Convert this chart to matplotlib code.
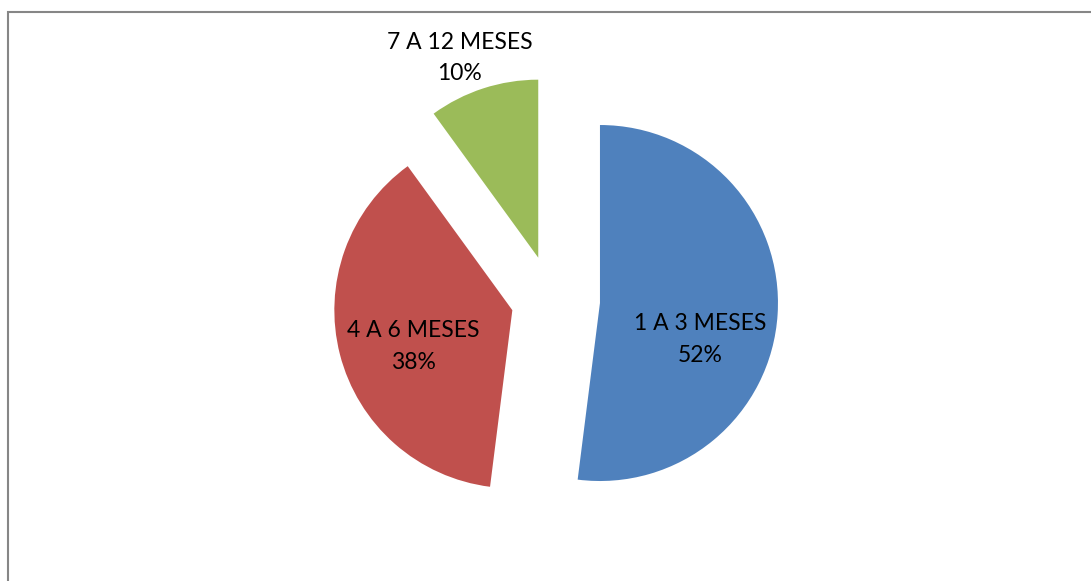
import matplotlib.pyplot as plt
from matplotlib.patches import Rectangle

categories = ["1 A 3 MESES", "4 A 6 MESES", "7 A 12 MESES"]
percentages = [52, 38, 10]
colors = ["#4F81BD", "#C0504D", "#9BBB59"]
explode = [0.27, 0.23, 0.25]

# label anchor points, in pie-radius units from the pie centre
label_pos = [(0.83, -0.222), (-0.78, -0.261), (-0.517, 1.36)]

W, H, DPI = 1091, 581, 100
R_PX = 178          # pie radius in pixels
CX, CY = 552, 300   # pie centre in pixels (from top-left)

fig = plt.figure(figsize=(W / DPI, H / DPI), dpi=DPI)
ax = fig.add_axes([0, 0, 1, 1])

ax.pie(percentages, colors=colors, explode=explode, startangle=90,
       counterclock=False, radius=1,
       wedgeprops=dict(linewidth=0, antialiased=True))

ax.set_xlim(-CX / R_PX, (W - CX) / R_PX)
ax.set_ylim(-(H - CY) / R_PX, CY / R_PX)
ax.set_aspect("equal", adjustable="box")
ax.axis("off")

for name, pct, (x, y) in zip(categories, percentages, label_pos):
    ax.text(x, y, f"{name}\n{pct}%", ha="center", va="center",
            fontsize=16.5, family="Lato", linespacing=1.6, color="black")

# chart-area border (bottom and right edges run off the image)
fig.add_artist(Rectangle((8 / W, -0.1), 1.2, (H - 12) / H + 0.1,
                         transform=fig.transFigure, fill=False,
                         edgecolor="#868686", linewidth=1.5))

fig.savefig("out.png", dpi=DPI, facecolor="white")
